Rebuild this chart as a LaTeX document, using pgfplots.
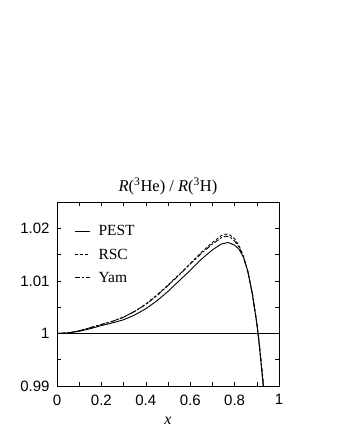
\documentclass[border=0pt]{standalone}
\usepackage{fontspec}
\setmainfont{Liberation Serif}
\setsansfont{Liberation Sans}
\usepackage{pgfplots}
\pgfplotsset{compat=1.18}

% ratio R(3He)/R(3H)
\begin{document}
\begin{tikzpicture}[x=1pt,y=1pt]
\useasboundingbox (0,0) rectangle (337,436);
\begin{axis}[
    at={(57pt,50pt)}, anchor=south west,
    scale only axis, width=222pt, height=184pt,
    xmin=0, xmax=1, ymin=0.99, ymax=1.025,
    xtick={0,0.2,0.4,0.6,0.8,1}, xticklabels={0,0.2,0.4,0.6,0.8,1},
    ytick={0.99,1,1.01,1.02}, yticklabels={0.99,1,1.01,1.02},
    minor x tick num=1, minor y tick num=1,
    tick align=inside, major tick length=4pt, minor tick length=4pt,
    tick style={black, line width=0.6pt},
    axis line style={line width=0.8pt},
    ticklabel style={font=\sffamily\fontsize{15}{15}\selectfont},
    xticklabel style={yshift=-5pt},
    yticklabel style={xshift=-4pt},
    title={\textit{R}(\textsuperscript{3}He) / \textit{R}(\textsuperscript{3}H)},
    title style={font=\fontsize{16.5}{16.5}\selectfont, yshift=-3pt},
    xlabel={\textit{x}},
    xlabel style={font=\fontsize{16}{16}\selectfont, yshift=-5pt},
    legend style={draw=none, fill=none, at={(0.065,0.895)}, anchor=north west,
        font=\fontsize{15.5}{15.5}\selectfont, row sep=7.5pt,
        /tikz/every odd column/.append style={column sep=6pt}},
    legend cell align=left,
    legend image code/.code={\draw[#1] (0pt,0pt) -- (15pt,0pt);},
    clip=true,
]
\addplot[black, line width=0.9pt] coordinates {
(0,1.0000) (0.05,1.0001) (0.1,1.0004) (0.15,1.0009) (0.2,1.0015) (0.25,1.0020)
(0.3,1.0026) (0.35,1.0035) (0.4,1.0047) (0.45,1.0062) (0.5,1.0080) (0.55,1.0100)
(0.6,1.0120) (0.65,1.0141) (0.7,1.0159) (0.74,1.0170) (0.77,1.0173) (0.8,1.0168)
(0.82,1.0160) (0.84,1.0145) (0.86,1.0118) (0.88,1.0074) (0.9,1.0019) (0.91,0.9982)
(0.92,0.9940) (0.93,0.9895) (0.935,0.9870)
};
\addlegendentry{PEST}
\addplot[black, line width=0.9pt, dash pattern=on 3pt off 2pt] coordinates {
(0,1.0000) (0.05,1.0001) (0.1,1.0005) (0.15,1.0011) (0.2,1.0017) (0.25,1.0023)
(0.3,1.0031) (0.35,1.0042) (0.4,1.0056) (0.45,1.0073) (0.5,1.0092) (0.55,1.0112)
(0.6,1.0133) (0.65,1.0154) (0.7,1.0173) (0.74,1.0186) (0.76,1.0189) (0.78,1.0187)
(0.8,1.0180) (0.82,1.0167) (0.84,1.0147) (0.86,1.0117) (0.88,1.0076) (0.9,1.0020)
(0.91,0.9984) (0.92,0.9943) (0.932,0.9890) (0.937,0.9870)
};
\addlegendentry{RSC}
\addplot[black, line width=0.9pt, dash pattern=on 5pt off 2pt on 2pt off 2pt] coordinates {
(0,1.0000) (0.05,1.0001) (0.1,1.0005) (0.15,1.0011) (0.2,1.0017) (0.25,1.0023)
(0.3,1.0031) (0.35,1.0042) (0.4,1.0055) (0.45,1.0072) (0.5,1.0091) (0.55,1.0111)
(0.6,1.0132) (0.65,1.0152) (0.7,1.0170) (0.74,1.0182) (0.76,1.0185) (0.78,1.0183)
(0.8,1.0176) (0.82,1.0164) (0.84,1.0145) (0.86,1.0116) (0.88,1.0076) (0.9,1.0021)
(0.91,0.9986) (0.92,0.9945) (0.933,0.9890) (0.938,0.9870)
};
\addlegendentry{Yam}
\addplot[black, line width=0.7pt, forget plot] coordinates {(0,1) (1,1)};
\end{axis}
\end{tikzpicture}
\end{document}
